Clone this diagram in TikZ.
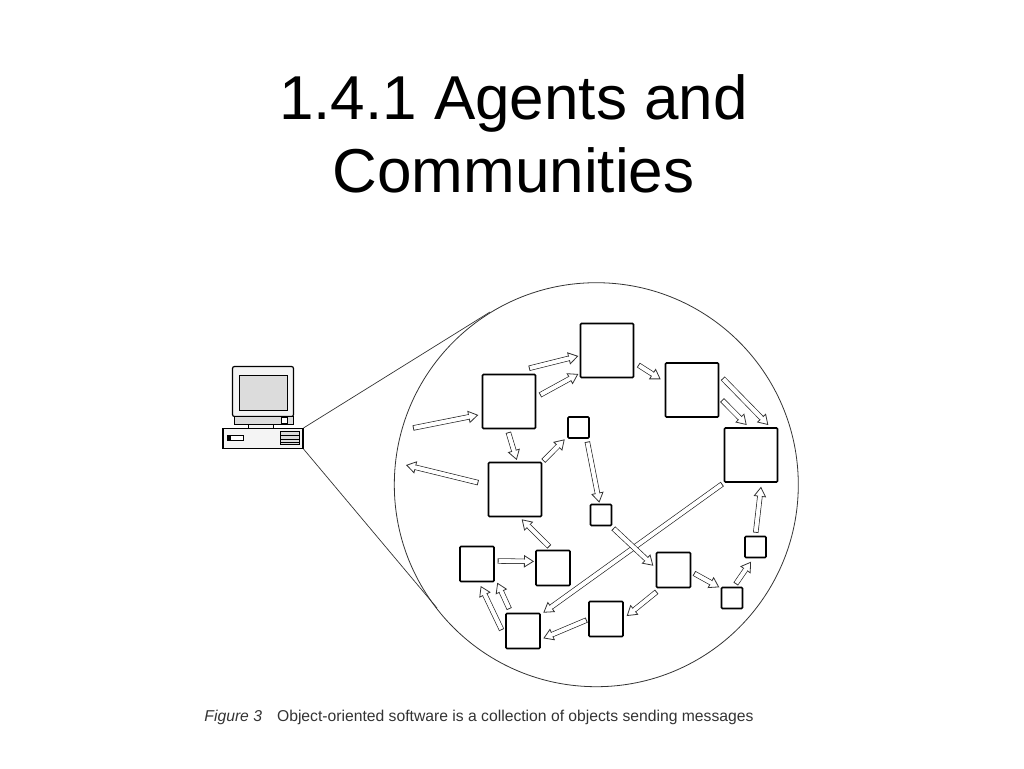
\documentclass[tikz,border=0pt]{standalone}
\usepackage{fontspec}
\setmainfont{Liberation Sans}
\usetikzlibrary{arrows.meta}
\definecolor{inkgray}{HTML}{333333}
\definecolor{screengray}{HTML}{DCDCDC}
\definecolor{casegray}{HTML}{F4F4F4}
\tikzset{
  bigbox/.style={minimum width=53pt,minimum height=54pt},
  midbox/.style={minimum width=34pt,minimum height=35pt},
  tinybox/.style={minimum width=21pt,minimum height=21pt},
  msg/.style={draw=inkgray,line width=.8pt,double=white,double distance=3.8pt,
    {Bar[width=5.4pt,line width=.8pt]}-{Triangle[length=10pt,width=12.5pt,fill=white,line width=.8pt]},
    postaction={draw=white,line width=.3pt,double distance=2.8pt,-,shorten >=8.5pt,shorten <=1.5pt}},
  part/.style={draw=black,line width=.9pt,fill=casegray,inner sep=0pt},
  ventline/.style={draw=black,line width=1pt},
}
\begin{document}
\begin{tikzpicture}[x=1pt,y=-1pt]

      \useasboundingbox (0,0) rectangle (1024,768);

      \node (title) at (513.5,134) [align=center,font=\fontsize{62}{73}\selectfont] {1.4.1 Agents and\\Communities};
      \node (caption) at (479,717) [text=inkgray,font=\fontsize{15.7}{18}\selectfont] {\textit{Figure 3}\hspace{15pt}Object-oriented software is a collection of objects sending messages};

      % the computer
      \node (monitor) at (263,391.5) [part,line width=1.2pt,rounded corners=2pt,minimum width=61pt,minimum height=50pt] {};
      \node (screen) at (263.5,392.5) [part,fill=screengray,minimum width=48pt,minimum height=35pt] {};
      \node (stand) at (263.5,420.5) [part,fill=screengray,minimum width=59pt,minimum height=7.5pt] {};
      \node (button) at (284.5,420.5) [part,fill=white,minimum width=6pt,minimum height=5.5pt] {};
      \node (neck) at (260.5,426) [part,minimum width=25pt,minimum height=4pt] {};
      \node (case) at (263,438.5) [part,fill=casegray,line width=1.2pt,minimum width=80pt,minimum height=20pt] {};
      \node (slot) at (235,437.5) [part,fill=white,minimum width=16pt,minimum height=5pt] {};
      \node (led) at (229,437.5) [part,fill=black,minimum width=3pt,minimum height=4pt] {};
      \node (vent) at (290,438) [part,fill=screengray,minimum width=19pt,minimum height=13pt] {};
      \draw[ventline] ([shift={(0,-3)}]vent.west) -- ([shift={(0,-3)}]vent.east);
      \draw[ventline] ([shift={(0,1)}]vent.west) -- ([shift={(0,1)}]vent.east);
      \draw[ventline] ([shift={(0,4)}]vent.west) -- ([shift={(0,4)}]vent.east);

      \node (zoom) at (596.3,484.7) [circle,draw=inkgray,line width=.8pt,minimum size=404pt,inner sep=0pt] {};
      \coordinate (in) at (413,428);
      \coordinate (out) at (406,465);
      \coordinate (top) at (490,312);
      \coordinate (bottom) at (437,608);

      \draw[inkgray,line width=.7pt] (case.north east) -- (top);
      \draw[inkgray,line width=.7pt] (case.south east) -- (bottom);

      \begin{scope}[every node/.style={draw=black,line width=1.6pt,rounded corners=1pt,inner sep=0pt}]
        \node (1)  at (509,401.5) [bigbox] {};
        \node (2)  at (607,350.5) [bigbox] {};
        \node (3)  at (692,390)   [bigbox] {};
        \node (4)  at (751,455)   [bigbox] {};
        \node (5)  at (578.5,427.5) [tinybox] {};
        \node (6)  at (515,489.5) [bigbox] {};
        \node (7)  at (601,515)   [tinybox] {};
        \node (8)  at (673.5,570) [midbox] {};
        \node (9)  at (755.5,547) [tinybox] {};
        \node (10) at (732,598)   [tinybox] {};
        \node (11) at (606,619)   [midbox] {};
        \node (12) at (523,631)   [midbox] {};
        \node (13) at (477,564)   [midbox] {};
        \node (14) at (553,568)   [midbox] {};
      \end{scope}

      \path (in) edge[msg] ([shift={(-30.7,13.5)}]1.center);
      \path ([shift={(-36.7,-6.8)}]6.center) edge[msg] (out);
      \path ([shift={(20,-33.2)}]1.center) edge[msg] ([shift={(-28.7,5.5)}]2.center);
      \path ([shift={(31,-6.5)}]1.center) edge[msg] ([shift={(-28.7,23.5)}]2.center);
      \path ([shift={(31.3,14.5)}]2.center) edge[msg] ([shift={(-31.3,-10.7)}]3.center);
      \path ([shift={(30.7,-11.7)}]3.center) edge[msg] ([shift={(17.3,-30)}]4.center);
      \path ([shift={(30,10)}]3.center) edge[msg] ([shift={(-4.3,-30)}]4.center);
      \path ([shift={(-.7,30.8)}]1.center) edge[msg] ([shift={(1.7,-29.5)}]6.center);
      \path ([shift={(28.3,-28.5)}]6.center) edge[msg] ([shift={(-13.8,11.8)}]5.center);
      \path ([shift={(8.8,14.2)}]5.center) edge[msg] ([shift={(-1.7,-12.3)}]7.center);
      \path ([shift={(-28.7,29)}]4.center) edge[msg] ([shift={(20.3,-18.3)}]12.center);
      \path ([shift={(12.3,13.3)}]7.center) edge[msg] ([shift={(-20.2,-4.3)}]8.center);
      \path ([shift={(.2,-14.3)}]9.center) edge[msg] ([shift={(10,31.7)}]4.center);
      \path ([shift={(3.7,-14)}]10.center) edge[msg] ([shift={(-4.5,14.7)}]9.center);
      \path ([shift={(20.5,3.3)}]8.center) edge[msg] ([shift={(-12.7,-10.7)}]10.center);
      \path ([shift={(-16.8,21.7)}]8.center) edge[msg] ([shift={(20.7,-3)}]11.center);
      \path ([shift={(-19.3,1)}]11.center) edge[msg] ([shift={(20.3,7.3)}]12.center);
      \path ([shift={(-21.3,-1)}]12.center) edge[msg] ([shift={(3.7,22)}]13.center);
      \path ([shift={(-13.7,-22)}]12.center) edge[msg] ([shift={(20.3,18.7)}]13.center);
      \path ([shift={(-3.7,-21.3)}]14.center) edge[msg] ([shift={(6.7,29.8)}]6.center);
      \path ([shift={(20.7,-3)}]13.center) edge[msg] ([shift={(-19,-6.6)}]14.center);

    \end{tikzpicture}
\end{document}
